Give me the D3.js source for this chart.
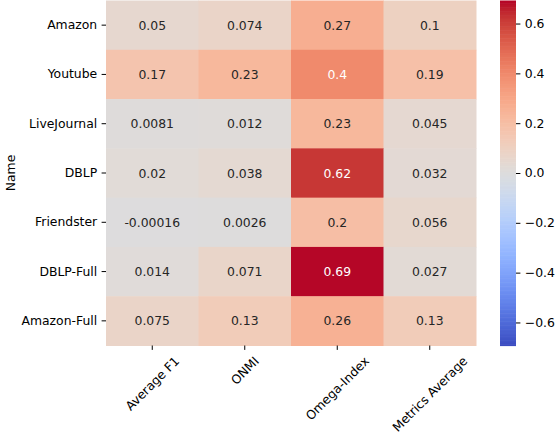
<!DOCTYPE html>
<html><head><meta charset="utf-8">
<script src="https://cdn.jsdelivr.net/npm/d3@7"></script>
<style>body{margin:0;background:#fff}svg{display:block;font-family:"DejaVu Sans",sans-serif}</style>
</head><body>
<svg id="c" width="558" height="436"></svg>
<script>
const rowNames = ["Amazon","Youtube","LiveJournal","DBLP","Friendster","DBLP-Full","Amazon-Full"];
const colNames = ["Average F1","ONMI","Omega-Index","Metrics Average"];
const avgF1 = [0.05, 0.17, 0.0081, 0.02, -0.00016, 0.014, 0.075];
const onmi = [0.074, 0.23, 0.012, 0.038, 0.0026, 0.071, 0.13];
const omega = [0.27, 0.4, 0.23, 0.62, 0.2, 0.69, 0.26];
const metricsAvg = [0.1, 0.19, 0.045, 0.032, 0.056, 0.027, 0.13];
const labels = [
  ["0.05","0.074","0.27","0.1"],
  ["0.17","0.23","0.4","0.19"],
  ["0.0081","0.012","0.23","0.045"],
  ["0.02","0.038","0.62","0.032"],
  ["-0.00016","0.0026","0.2","0.056"],
  ["0.014","0.071","0.69","0.027"],
  ["0.075","0.13","0.26","0.13"]
];
const cbTicks = [-0.6,-0.4,-0.2,0,0.2,0.4,0.6];
const vmax = 0.6925;

const coolwarm = ["#3b4cc0","#445acc","#4d68d7","#5775e1","#6282ea","#6c8ef1","#779af7","#82a5fb","#8db0fe","#98b9ff","#a3c2ff","#aec9fd","#b8d0f9","#c2d5f4","#ccd9ee","#d5dbe6","#dddddd","#e5d8d1","#ecd3c5","#f1ccb9","#f5c4ad","#f7bba0","#f7b194","#f7a687","#f49a7b","#f18d6f","#ec7f63","#e57058","#de604d","#d55042","#cb3e38","#c0282f","#b40426"];
const interp = d3.interpolateRgbBasis(coolwarm);
const color = v => interp(Math.max(0, Math.min(1, (v + vmax) / (2 * vmax))));

const cols = [avgF1, onmi, omega, metricsAvg];
const cells = [];
rowNames.forEach((r, i) => cols.forEach((c, j) => cells.push({r, c: colNames[j], v: c[i], t: labels[i][j]})));

const svg = d3.select("#c");
const L = 106, R = 476, T = 0.5, B = 345.5;
const x = d3.scaleBand().domain(colNames).range([L, R]);
const y = d3.scaleBand().domain(rowNames).range([T, B]);
const FS = "12.4px";

svg.append("g").selectAll("rect").data(cells).join("rect")
  .attr("x", d => x(d.c)).attr("y", d => y(d.r))
  .attr("width", x.bandwidth() + 0.5).attr("height", y.bandwidth() + 0.5)
  .attr("fill", d => color(d.v));

function lum(c) {
  const rgb = d3.rgb(c);
  const f = u => { u /= 255; return u <= 0.03928 ? u / 12.92 : Math.pow((u + 0.055) / 1.055, 2.4); };
  return 0.2126 * f(rgb.r) + 0.7152 * f(rgb.g) + 0.0722 * f(rgb.b);
}
svg.append("g").selectAll("text").data(cells).join("text")
  .attr("x", d => x(d.c) + x.bandwidth() / 2)
  .attr("y", d => y(d.r) + y.bandwidth() / 2)
  .attr("text-anchor", "middle").attr("dominant-baseline", "central")
  .style("font-size", FS)
  .attr("fill", d => lum(color(d.v)) > 0.408 ? "#262626" : "#ffffff")
  .text(d => d.t);

// y axis
const yAxis = svg.append("g").attr("transform", `translate(${L},0)`)
  .call(d3.axisLeft(y).tickSize(4.4).tickPadding(4.4));
yAxis.select(".domain").remove();
yAxis.selectAll("text").style("font-size", FS).style("font-family", "DejaVu Sans").attr("fill", "#000");
yAxis.selectAll("line").attr("stroke", "#000").attr("stroke-width", 1);

// x axis
const xAxis = svg.append("g").attr("transform", `translate(0,${B})`)
  .call(d3.axisBottom(x).tickSize(4.4).tickFormat(""));
xAxis.select(".domain").remove();
xAxis.selectAll("line").attr("stroke", "#000").attr("stroke-width", 1);
const xl = svg.append("g").selectAll("text").data(colNames).join("text")
  .style("font-size", FS).attr("fill", "#000")
  .attr("text-anchor", "middle").attr("dominant-baseline", "central")
  .text(d => d);
xl.attr("transform", function(d) {
  const w = this.getComputedTextLength();
  const h = 12.4 * 1.0;
  const bb = (w + h) * Math.SQRT1_2;
  const cx = x(d) + x.bandwidth() / 2;
  const cy = B + 4.4 + 4.4 + bb / 2;
  return `translate(${cx},${cy}) rotate(-45)`;
});

// y label
svg.append("text").attr("transform", `translate(10,173) rotate(-90)`)
  .attr("text-anchor", "middle").attr("dominant-baseline", "central")
  .style("font-size", FS).attr("fill", "#000").text("Name");

// colorbar
const cbL = 500, cbW = 16;
const cy = d3.scaleLinear().domain([-vmax, vmax]).range([B, T]);
const n = 256;
const steps = d3.range(n).map(i => -vmax + (i + 0.5) * 2 * vmax / n);
svg.append("g").selectAll("rect").data(steps).join("rect")
  .attr("x", cbL).attr("width", cbW)
  .attr("y", d => cy(d + vmax / n) )
  .attr("height", (B - T) / n + 0.6)
  .attr("fill", d => color(d));
const cAxis = svg.append("g").attr("transform", `translate(${cbL + cbW},0)`)
  .call(d3.axisRight(cy).tickValues(cbTicks).tickSize(4.4).tickPadding(4.4)
    .tickFormat(d => (d < 0 ? "\u2212" : "") + Math.abs(d).toFixed(1)));
cAxis.select(".domain").remove();
cAxis.selectAll("text").style("font-size", FS).style("font-family", "DejaVu Sans").attr("fill", "#000");
cAxis.selectAll("line").attr("stroke", "#000").attr("stroke-width", 1);
</script>
</body></html>
